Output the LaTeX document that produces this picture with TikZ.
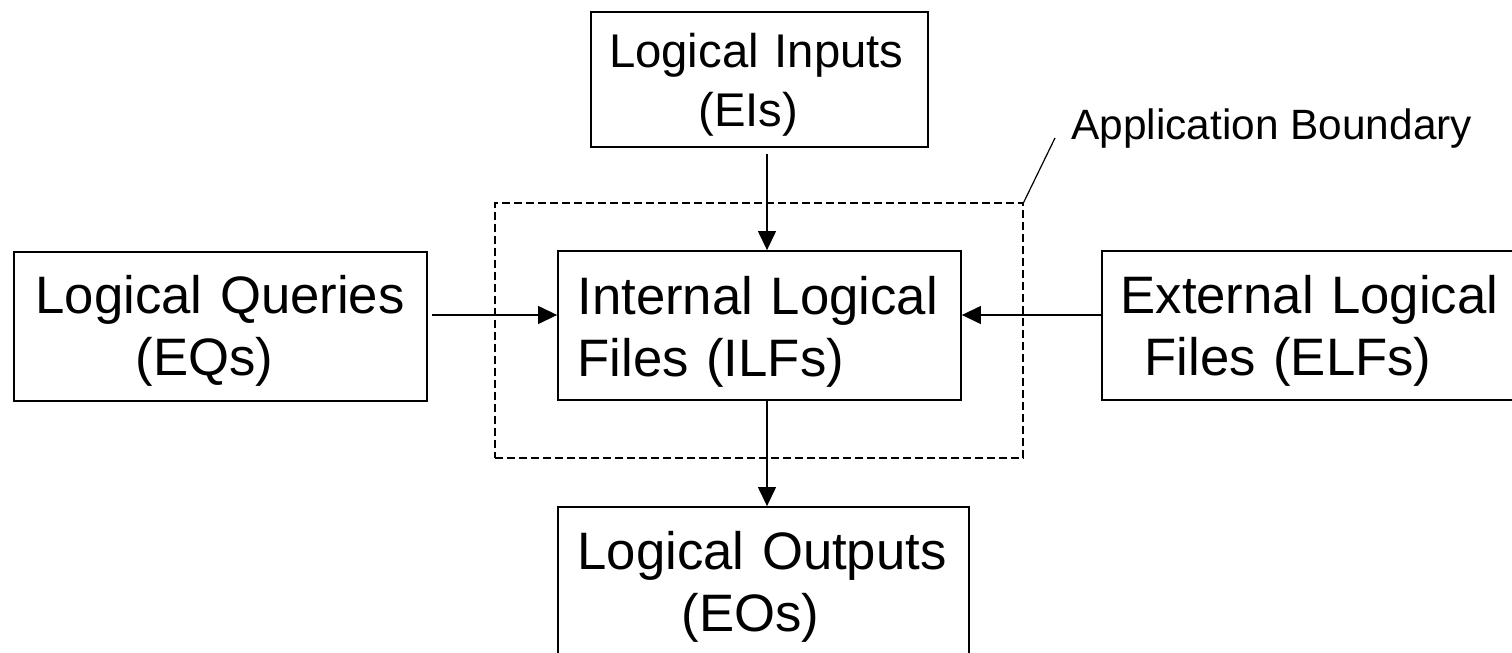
\documentclass[tikz,border=0pt]{standalone}
\usepackage{fontspec}
\setmainfont{Liberation Sans}
\usetikzlibrary{arrows.meta,calc}
\begin{document}
\begin{tikzpicture}[x=0.5pt,y=-0.5pt,
  box/.style={draw, line width=0.9pt, inner sep=0, rectangle},
  bndbox/.style={draw, line width=0.7pt, dash pattern=on 4pt off 2pt, inner sep=0, rectangle},
  txt/.style={anchor=base west, inner sep=0, text width=220pt, align=left, font=\fontsize{26.35pt}{31pt}\selectfont},
  arr/.style={line width=0.6pt, -{Triangle[length=9.5pt,width=9pt]}},
]
\useasboundingbox (0,0) rectangle (1512,653);
% boundary
\node[bndbox, minimum width=264pt, minimum height=127.5pt] (bnd) at (759,330.5) {};
% boxes
\node[box, minimum width=168.5pt, minimum height=67.5pt] (li) at (759.5,79.5) {};
\node[box, minimum width=206.5pt, minimum height=74.5pt] (lq) at (220.5,326.5) {};
\node[box, minimum width=201.5pt, minimum height=74.5pt] (ilf) at (759.5,325.5) {};
\node[box, minimum width=214pt, minimum height=74.5pt] (elf) at (1316,325.5) {};
\node[box, minimum width=205.5pt, minimum height=81.5pt] (lo) at (763.5,588.5) {};
% texts
\node[txt, font=\fontsize{23.65pt}{29.5pt}\selectfont] (lit) at ($(li.north west)+(18.5,56)$) {Logical Inputs\\\hspace*{44.75pt}(EIs)};
\node[txt] (lqt) at ($(lq.north west)+(22,62)$) {Logical Queries\\\hspace*{50pt}(EQs)};
\node[txt] (ilft) at ($(ilf.north west)+(20,64)$) {Internal Logical\\Files (ILFs)};
\node[txt] (elft) at ($(elf.north west)+(19,63)$) {External Logical\\\hspace*{12pt}Files (ELFs)};
\node[txt] (lot) at ($(lo.north west)+(20,63)$) {Logical Outputs\\\hspace*{52pt}(EOs)};
\node[anchor=base west, inner sep=0, font=\fontsize{21.2pt}{25pt}\selectfont] (app) at (1071,139) {Application Boundary};
% connectors
\draw[arr] ($(li.south)+(7.5,6)$) -- ($(ilf.north)+(7.5,0)$);
\draw[arr] ($(lq.east)+(4,-11.5)$) -- ($(ilf.west)+(0,-10.5)$);
\draw[arr] ($(elf.west)+(0,-10.5)$) -- ($(ilf.east)+(0,-10.5)$);
\draw[arr] ($(ilf.south)+(7.5,0)$) -- ($(lo.north)+(3.5,0)$);
\coordinate (lead) at ($(app.base west)+(-16,-1)$);
\draw[line width=0.6pt] (bnd.north east) -- (lead);
\end{tikzpicture}
\end{document}
